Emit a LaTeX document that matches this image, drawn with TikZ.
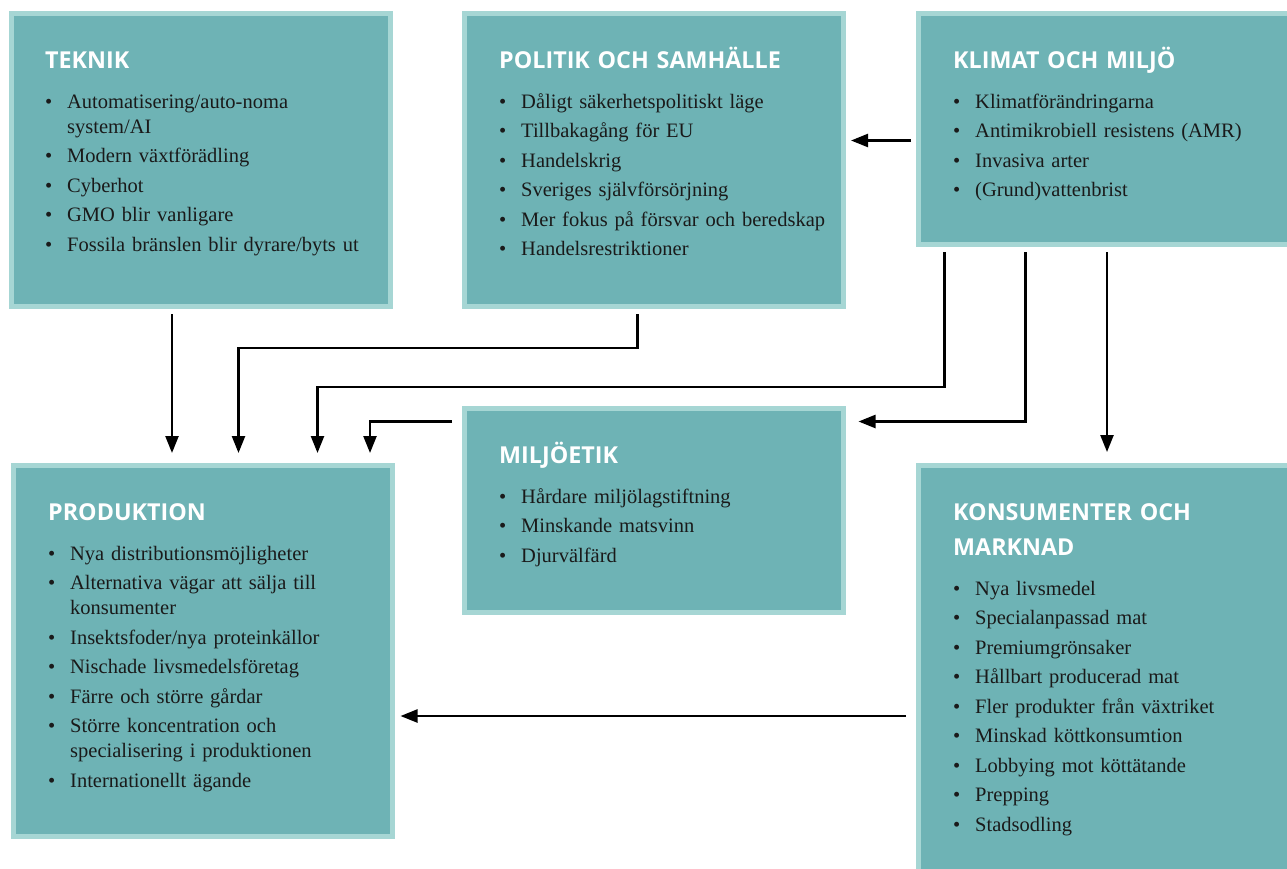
\documentclass[tikz,border=0pt]{standalone}
\usepackage{fontspec}
\setmainfont{Liberation Serif}
\newfontfamily\headfont{Open Sans}
\usepackage{tikz}
\usetikzlibrary{positioning}
\usetikzlibrary{arrows.meta}
\usetikzlibrary{calc}
\usepackage{xcolor}
\definecolor{boxfill}{HTML}{6EB3B5}
\definecolor{boxedge}{HTML}{A6D6D4}
\definecolor{bodytext}{HTML}{1A1A1A}
\newcommand{\bul}{\makebox[22pt][l]{\textbullet}}
\newcommand{\cont}{\hspace*{22pt}}

\begin{document}
\begin{tikzpicture}[
		x=1pt, y=-1pt,
		% Style definitions - pixel grid, y runs downwards
		panel/.style={draw=boxedge, fill=boxfill, line width=5pt, outer sep=2.5pt, inner sep=0pt, minimum width=379pt},
		heading/.style={anchor=base west, inner sep=0pt, text=white, text width=340pt, align=left, font=\headfont\bfseries\fontsize{23.3}{35}\selectfont},
		bullets/.style={anchor=base west, inner sep=0pt, text width=360pt, align=left, text=bodytext, font=\fontsize{20.5}{25}\selectfont},
		arrow/.style={-{Triangle[length=17pt, width=13pt]}, line width=2.4pt},
		]
		\useasboundingbox (0,0) rectangle (1287,868);
		\clip (0,0) rectangle (1287,868);

		% === ROW 1: driving forces ===
		\node[panel, minimum height=293pt] (teknik) at (201,160) {};
		\node[panel, minimum height=293pt] (politik) at (654,160) {};
		\node[panel, minimum height=231pt] (klimat) at (1108,129) {};

		% === ROW 2: affected areas ===
		\node[panel, minimum height=204pt] (miljoetik) at (654,510.5) {};
		\node[panel, minimum height=371pt] (produktion) at (203,651) {};
		\node[panel, minimum height=429pt] (konsumenter) at (1108,680) {};

		% === Headings ===
		\node[below right=57pt and 36pt of teknik.north west, heading] (teknik-title) {TEKNIK};
		\node[below right=57pt and 37pt of politik.north west, heading] (politik-title) {POLITIK OCH SAMHÄLLE};
		\node[below right=57pt and 37pt of klimat.north west, heading] (klimat-title) {KLIMAT OCH MILJÖ};
		\node[below right=57pt and 37pt of miljoetik.north west, heading] (miljoetik-title) {MILJÖETIK};
		\node[below right=57pt and 37pt of produktion.north west, heading] (produktion-title) {PRODUKTION};
		\node[below right=57pt and 37pt of konsumenter.north west, heading] (konsumenter-title) {KONSUMENTER OCH\\MARKNAD};

		% === Bullet lists ===
		\node[below right=97pt and 36pt of teknik.north west, bullets] (teknik-list) {%
			\bul Automatisering/auto-noma\\
			\cont system/AI\\[4.5pt]
			\bul Modern växtförädling\\[4.5pt]
			\bul Cyberhot\\[4.5pt]
			\bul GMO blir vanligare\\[4.5pt]
			\bul Fossila bränslen blir dyrare/byts ut};
		\node[below right=97pt and 37pt of politik.north west, bullets] (politik-list) {%
			\bul Dåligt säkerhetspolitiskt läge\\[4.5pt]
			\bul Tillbakagång för EU\\[4.5pt]
			\bul Handelskrig\\[4.5pt]
			\bul Sveriges självförsörjning\\[4.5pt]
			\bul Mer fokus på försvar och beredskap\\[4.5pt]
			\bul Handelsrestriktioner};
		\node[below right=97pt and 37pt of klimat.north west, bullets] (klimat-list) {%
			\bul Klimatförändringarna\\[4.5pt]
			\bul Antimikrobiell resistens (AMR)\\[4.5pt]
			\bul Invasiva arter\\[4.5pt]
			\bul (Grund)vattenbrist};
		\node[below right=97pt and 37pt of miljoetik.north west, bullets] (miljoetik-list) {%
			\bul Hårdare miljölagstiftning\\[4.5pt]
			\bul Minskande matsvinn\\[4.5pt]
			\bul Djurvälfärd};
		\node[below right=97pt and 37pt of produktion.north west, bullets] (produktion-list) {%
			\bul Nya distributionsmöjligheter\\[4.5pt]
			\bul Alternativa vägar att sälja till\\
			\cont konsumenter\\[4.5pt]
			\bul Insektsfoder/nya proteinkällor\\[4.5pt]
			\bul Nischade livsmedelsföretag\\[4.5pt]
			\bul Färre och större gårdar\\[4.5pt]
			\bul Större koncentration och\\
			\cont specialisering i produktionen\\[4.5pt]
			\bul Internationellt ägande};
		\node[below right=132pt and 37pt of konsumenter.north west, bullets] (konsumenter-list) {%
			\bul Nya livsmedel\\[4.5pt]
			\bul Specialanpassad mat\\[4.5pt]
			\bul Premiumgrönsaker\\[4.5pt]
			\bul Hållbart producerad mat\\[4.5pt]
			\bul Fler produkter från växtriket\\[4.5pt]
			\bul Minskad köttkonsumtion\\[4.5pt]
			\bul Lobbying mot köttätande\\[4.5pt]
			\bul Prepping\\[4.5pt]
			\bul Stadsodling};

		% === Connections: into PRODUKTION from above ===
		\draw[arrow] ($(teknik.south)+(-29,5)$) -- ($(produktion.north)+(-31,-10)$);
		\draw[arrow] ($(politik.south)+(-16.5,5)$) -- ++(0,34) -| ($(produktion.north)+(35.5,-10)$);
		\draw[arrow] ($(klimat.south)+(-163.5,5)$) -- ++(0,135) -| ($(produktion.north)+(114.5,-10)$);
		\draw[arrow] ($(miljoetik.north west)+(-10,15.5)$) -| ($(produktion.north)+(167,-10)$);

		% === Connections: out of KLIMAT OCH MILJÖ ===
		\draw[arrow] ($(klimat.south)+(-82.5,5)$) |- ($(miljoetik.north east)+(12.5,15.5)$);
		\draw[arrow] ($(klimat.south)+(-1,5)$) -- ($(konsumenter.north)+(-1,-11)$);
		\draw[arrow] ($(klimat.north west)+(-5,129.5)$) -- ($(politik.north east)+(5,129.5)$);

		% === Connection: back to PRODUKTION ===
		\draw[arrow] ($(konsumenter.north west)+(-10,253)$) -- ($(produktion.north east)+(5.5,253)$);

	\end{tikzpicture}
\end{document}
